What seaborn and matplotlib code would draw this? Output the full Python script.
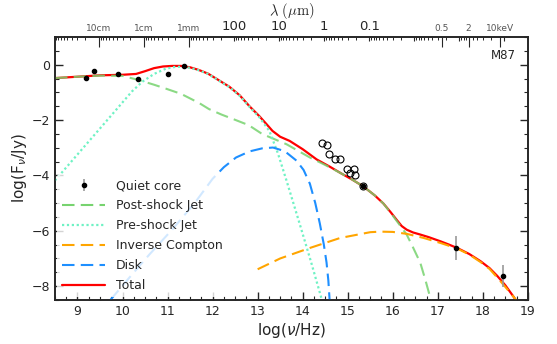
import numpy as np
import matplotlib
matplotlib.use("Agg")
import matplotlib.pyplot as plt
import seaborn as sns
from matplotlib.ticker import MultipleLocator
from matplotlib.lines import Line2D

# quiet core (filled points with error bars)
core_x = [9.18, 9.36, 9.90, 10.34, 11.01, 11.37, 15.35, 17.41, 18.44]
core_y = [-0.46, -0.21, -0.32, -0.50, -0.32, -0.04, -4.39, -6.61, -7.64]
core_err = [0.04, 0.04, 0.04, 0.04, 0.04, 0.04, 0.04, 0.43, 0.40]

# open circles (other measurements)
open_x = [14.42, 14.54, 14.59, 14.72, 14.83, 14.98, 15.13, 15.06, 15.16, 15.35]
open_y = [-2.81, -2.90, -3.21, -3.39, -3.40, -3.76, -3.76, -3.90, -3.97, -4.39]

# model curves
tot_x = [8.5, 9.0, 9.5, 10.0, 10.3, 10.5, 10.7, 10.9, 11.1, 11.3, 11.5, 11.7, 11.9, 12.1,
         12.37, 12.6, 12.82, 13.04, 13.2, 13.33, 13.5, 13.71, 14.0, 14.31, 14.6, 14.85,
         15.1, 15.35, 15.6, 15.79, 15.95, 16.09, 16.2, 16.31, 16.45, 16.6, 16.8, 17.06,
         17.25, 17.43, 17.7, 17.95, 18.15, 18.32, 18.5, 18.69, 18.75]
tot_y = [-0.48, -0.43, -0.38, -0.36, -0.33, -0.23, -0.12, -0.06, -0.04, -0.04, -0.09,
         -0.19, -0.32, -0.52, -0.79, -1.1, -1.5, -1.86, -2.15, -2.39, -2.6, -2.75, -3.05,
         -3.42, -3.68, -3.92, -4.15, -4.4, -4.72, -5.01, -5.32, -5.61, -5.83, -5.96, -6.06,
         -6.13, -6.23, -6.38, -6.5, -6.62, -6.84, -7.10, -7.35, -7.63, -7.97, -8.4, -8.55]

post_x = [8.5, 9.0, 9.5, 10.0, 10.36, 10.7, 10.96, 11.3, 11.7, 11.92, 12.2, 12.44, 12.8,
          13.1, 13.64, 14.16, 14.5, 14.85, 15.1, 15.35, 15.6, 15.79, 16.0, 16.15, 16.31,
          16.45, 16.61, 16.72, 16.83, 16.86]
post_y = [-0.48, -0.43, -0.39, -0.40, -0.55, -0.72, -0.86, -1.05, -1.38, -1.6, -1.8, -1.95,
          -2.18, -2.5, -2.87, -3.35, -3.62, -3.92, -4.15, -4.4, -4.72, -5.01, -5.45, -5.78,
          -6.14, -6.6, -7.15, -7.75, -8.4, -8.55]

pre_x = [8.5, 9.0, 9.5, 9.84, 10.21, 10.44, 10.7, 10.96, 11.15, 11.33, 11.5, 11.7, 11.9,
         12.1, 12.37, 12.6, 12.82, 13.04, 13.26, 13.45, 13.64, 13.93, 14.19, 14.42, 14.45]
pre_y = [-4.18, -3.24, -2.3, -1.66, -0.96, -0.61, -0.33, -0.14, -0.08, -0.07, -0.11, -0.2,
         -0.33, -0.53, -0.8, -1.12, -1.52, -1.9, -2.39, -3.2, -4.18, -5.73, -7.15, -8.46, -8.6]

ic_x = [13.0, 13.5, 14.16, 14.83, 15.5, 15.72, 16.0, 16.31, 16.69, 17.06, 17.43, 17.7,
        17.95, 18.15, 18.32, 18.5, 18.69, 18.76]
ic_y = [-7.39, -7.0, -6.62, -6.26, -6.05, -6.03, -6.04, -6.11, -6.26, -6.44, -6.64, -6.86,
        -7.13, -7.38, -7.69, -8.03, -8.4, -8.55]

disk_x = [9.73, 10.2, 10.6, 11.1, 11.6, 12.0, 12.25, 12.52, 12.82, 13.1, 13.34, 13.6,
          13.86, 14.02, 14.16, 14.28, 14.38, 14.47, 14.53, 14.57, 14.6]
disk_y = [-8.5, -7.6, -6.85, -5.96, -5.0, -4.12, -3.7, -3.35, -3.13, -3.02, -2.99, -3.12,
          -3.46, -3.8, -4.3, -5.0, -5.73, -6.5, -7.15, -7.8, -8.55]

# top axis: wavelength decades (micron) and X-ray energies (keV)
lam_um = [1e5, 1e4, 1e3, 1e2, 1e1, 1e0, 1e-1, 1e-2, 1e-3, 1e-4]
lam_lab = ["10cm", "1cm", "1mm", "100", "10", "1", "0.1", "", "", ""]
kev = [0.5, 2, 10]
kev_lab = ["0.5", "2", "10keV"]

sns.set_style("ticks")
plt.rcParams["font.family"] = ["DejaVu Sans"]

fig = plt.figure(figsize=(5.57, 3.44), dpi=100)
ax = fig.add_axes([0.0987, 0.128, 0.849, 0.764])

c_um = 2.998e14  # micron/s
h_kev = 4.1357e-18  # keV s

green, aqua, blue = "#77d36f", "#6ff2c4", "#1e8fff"

sns.lineplot(x=tot_x, y=tot_y, ax=ax, color="red", lw=1.6, sort=False, zorder=2)
sns.lineplot(x=post_x, y=post_y, ax=ax, color=green, lw=1.5, sort=False,
             linestyle=(0, (6, 3)), alpha=0.85, zorder=3)
sns.lineplot(x=pre_x, y=pre_y, ax=ax, color=aqua, lw=1.6, sort=False,
             linestyle=(0, (1, 1.2)), zorder=3)
sns.lineplot(x=ic_x, y=ic_y, ax=ax, color="orange", lw=1.5, sort=False,
             linestyle=(0, (6, 3)), zorder=3)
sns.lineplot(x=disk_x, y=disk_y, ax=ax, color=blue, lw=1.5, sort=False,
             linestyle=(0, (6, 3)), zorder=3)

ax.errorbar(core_x, core_y, yerr=core_err, fmt="o", color="black", ms=3,
            ecolor="#999999", elinewidth=1.2, capsize=0, zorder=5)
ax.plot(open_x, open_y, "o", mfc="none", mec="black", ms=5, mew=0.8, zorder=4)

ax.set_xlim(8.5, 19)
ax.set_ylim(-8.5, 1)
ax.xaxis.set_major_locator(MultipleLocator(1))
ax.xaxis.set_minor_locator(MultipleLocator(0.25))
ax.yaxis.set_major_locator(MultipleLocator(2))
ax.yaxis.set_minor_locator(MultipleLocator(0.5))
ax.tick_params(which="both", direction="in", top=False, right=True, labelsize=9)
ax.tick_params(which="major", length=6, width=1)
ax.tick_params(which="minor", length=3, width=0.8)
ax.set_xlabel(r"log($\nu$/Hz)", fontsize=11, labelpad=2)
ax.set_ylabel(r"log(F$_\nu$/Jy)", fontsize=11, labelpad=2)
for s in ax.spines.values():
    s.set_linewidth(1.2)

ax.text(0.975, 0.93, "M87", transform=ax.transAxes, ha="right", va="center", fontsize=8.5)

# legend
handles = [
    ax.containers[0],
    Line2D([], [], color=green, lw=1.5, linestyle=(0, (6, 3))),
    Line2D([], [], color=aqua, lw=1.6, linestyle=(0, (1, 1.2))),
    Line2D([], [], color="orange", lw=1.5, linestyle=(0, (6, 3))),
    Line2D([], [], color=blue, lw=1.5, linestyle=(0, (6, 3))),
    Line2D([], [], color="red", lw=1.6),
]
labels = ["Quiet core", "Post-shock Jet", "Pre-shock Jet", "Inverse Compton", "Disk", "Total"]
leg = ax.legend(handles, labels, loc="lower left", fontsize=9, frameon=True,
                framealpha=0.8, edgecolor="none", handlelength=3.4, borderaxespad=0.2,
                labelspacing=0.56, handletextpad=0.9)
leg.get_frame().set_linewidth(0)

# top wavelength axis
ax2 = ax.twiny()
ax2.set_xlim(ax.get_xlim())
pos = [np.log10(c_um / w) for w in lam_um] + [np.log10(e / h_kev) for e in kev]
labs = lam_lab + kev_lab
ax2.set_xticks(pos, labs)
minor = []
for w in lam_um + [1e6]:
    for k in range(2, 10):
        v = np.log10(c_um / (k * w))
        if 8.5 < v < 19:
            minor.append(v)
ax2.set_xticks(minor, minor=True)
ax2.tick_params(which="both", direction="in", pad=3)
ax2.tick_params(which="minor", length=2.5, width=0.7)
ax2.tick_params(which="major", length=3, width=0.8)
for i, t in enumerate(ax2.xaxis.get_major_ticks()):
    if labs[i] in ("10cm", "1cm", "1mm") or i >= len(lam_lab):
        t.label2.set_fontsize(6.5)
        t.label2.set_color("#555555")
        t.tick2line.set_markersize(7)
        t.tick2line.set_color("#777777")
    else:
        t.label2.set_fontsize(9.5)
ax2.set_xlabel(r"$\lambda\ (\mu{\rm m})$", fontsize=10.5, math_fontfamily="cm")
ax2.xaxis.label.set_va("center")
ax2.xaxis.set_label_coords(0.5, 1.1)
for s in ax2.spines.values():
    s.set_linewidth(1.2)

fig.savefig("out.png", dpi=100)
